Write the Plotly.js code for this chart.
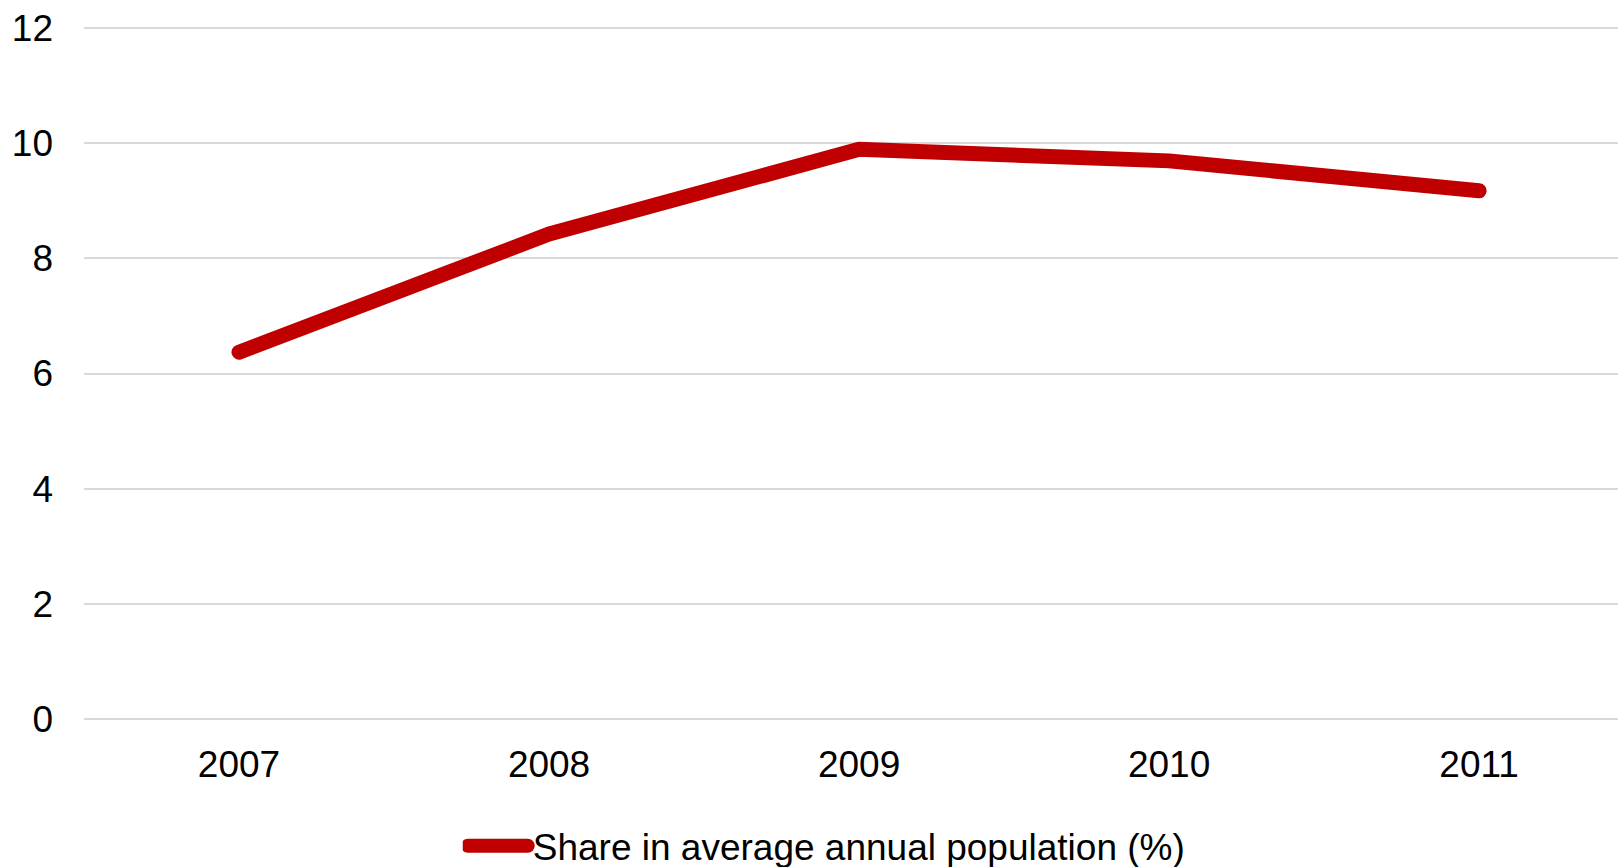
<!DOCTYPE html>
<html>
<head>
<meta charset="utf-8">
<script src="https://cdn.plot.ly/plotly-3.0.1.min.js"></script>
<style>
  html, body { margin: 0; padding: 0; background: #fff; }
  #chart { width: 1618px; height: 867px; }
  .scatterlayer .js-line { stroke-linecap: round; stroke-linejoin: round; }
  .legendlines path { stroke-linecap: round; stroke-width: 14px !important; }
</style>
</head>
<body>
<div id="chart"></div>
<script>
const years = ['2007', '2008', '2009', '2010', '2011'];
const shareValues = [6.37, 8.42, 9.89, 9.69, 9.17];
const seriesName = 'Share in average annual population (%)';
const yTicks = [0, 2, 4, 6, 8, 10, 12];

const trace = {
  x: years,
  y: shareValues,
  type: 'scatter',
  mode: 'lines',
  name: seriesName,
  line: { color: '#c00000', width: 15 },
  hoverinfo: 'x+y'
};

const layout = {
  width: 1618,
  height: 867,
  margin: { l: 84, r: 0, t: 22, b: 142, autoexpand: false },
  paper_bgcolor: '#ffffff',
  plot_bgcolor: '#ffffff',
  font: { family: 'Liberation Sans, Arial, sans-serif', size: 37, color: '#000000' },
  showlegend: true,
  legend: {
    orientation: 'h',
    xref: 'container',
    yref: 'container',
    x: 0.286,
    xanchor: 'left',
    y: 0.024,
    yanchor: 'middle',
    itemwidth: 60,
    font: { size: 37, color: '#000000' },
    bgcolor: 'rgba(0,0,0,0)'
  },
  xaxis: {
    type: 'category',
    range: [-0.5, 4.448],
    showgrid: false,
    zeroline: false,
    showline: false,
    ticks: '',
    ticklabelstandoff: 14,
    tickfont: { size: 37, color: '#000000' }
  },
  yaxis: {
    range: [-0.1, 12.1],
    tickvals: yTicks,
    ticktext: yTicks.map(String),
    showgrid: true,
    gridcolor: '#d9d9d9',
    gridwidth: 2,
    zeroline: false,
    showline: false,
    ticks: '',
    ticklabelstandoff: 30,
    tickfont: { size: 37, color: '#000000' }
  }
};

Plotly.newPlot('chart', [trace], layout, { displayModeBar: false, responsive: false });
</script>
</body>
</html>
